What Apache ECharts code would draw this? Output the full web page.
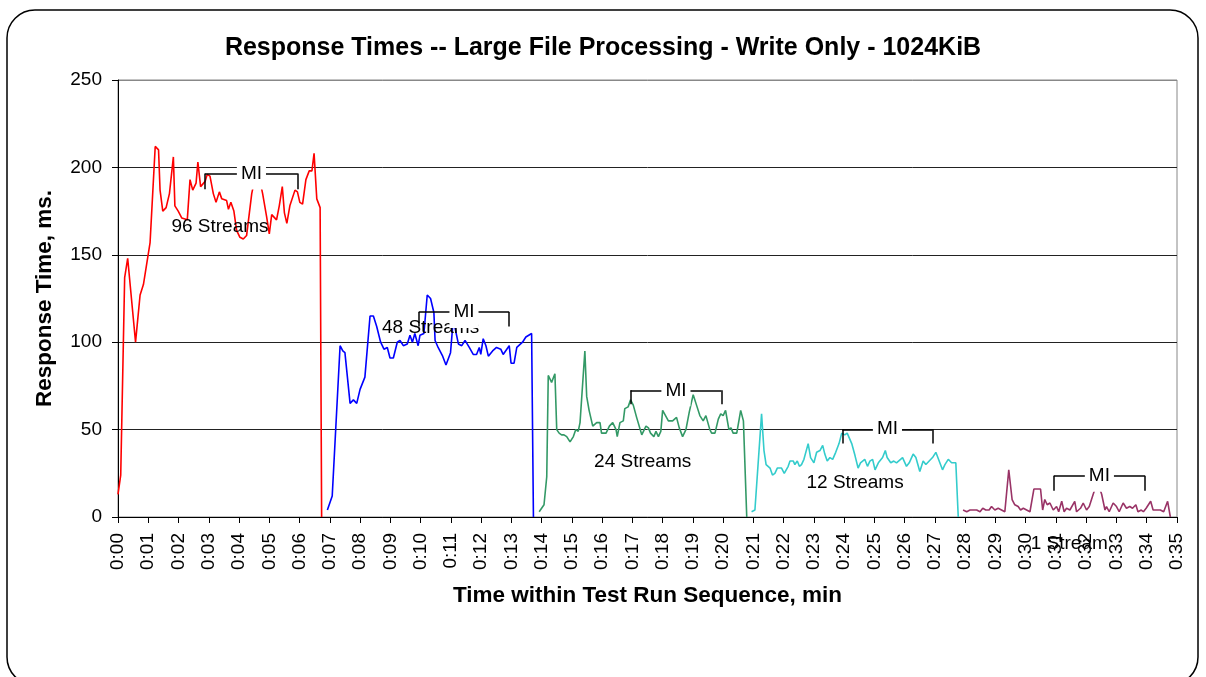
<!DOCTYPE html>
<html>
<head>
<meta charset="utf-8">
<script src="https://cdn.jsdelivr.net/npm/echarts@6/dist/echarts.min.js"></script>
<style>
  html, body { margin: 0; padding: 0; background: #fff; }
  #chart { width: 1206px; height: 677px; }
</style>
</head>
<body>
<div id="chart"></div>
<script>
// sample points: [time (min), response time (ms)]
const streams96 = [[0.00,13],[0.09,24],[0.22,137],[0.32,148],[0.58,100],[0.73,127],[0.84,133],[1.06,157],[1.23,212],[1.34,210],[1.39,187],[1.48,175],[1.59,177],[1.70,185],[1.83,206],[1.88,178],[1.99,175],[2.11,171],[2.29,170],[2.38,193],[2.47,187],[2.58,191],[2.64,203],[2.73,189],[2.88,192],[2.95,196],[3.04,195],[3.15,185],[3.24,180],[3.35,186],[3.43,182],[3.59,181],[3.65,176],[3.73,180],[3.83,175],[3.92,164],[4.03,160],[4.14,159],[4.25,161],[4.42,185],[4.60,200],[4.78,185],[4.91,172],[5.00,162],[5.08,173],[5.24,170],[5.33,178],[5.43,189],[5.50,174],[5.58,168],[5.68,178],[5.85,187],[5.93,186],[6.01,180],[6.10,179],[6.21,193],[6.32,198],[6.41,198],[6.48,208],[6.57,182],[6.68,177],[6.73,0]];
const streams48 = [[6.92,4],[7.08,12],[7.34,98],[7.43,95],[7.50,94],[7.67,65],[7.78,67],[7.89,65],[8.00,73],[8.16,80],[8.33,115],[8.44,115],[8.55,109],[8.68,100],[8.79,96],[8.90,97],[8.99,91],[9.10,91],[9.23,100],[9.32,101],[9.43,98],[9.56,99],[9.65,104],[9.73,100],[9.81,105],[9.92,98],[9.98,104],[10.11,105],[10.22,127],[10.33,125],[10.44,117],[10.48,101],[10.58,97],[10.73,92],[10.84,87],[10.99,94],[11.08,113],[11.25,99],[11.36,98],[11.47,101],[11.61,97],[11.74,93],[11.85,93],[11.94,97],[11.99,93],[12.07,102],[12.16,98],[12.24,92],[12.38,95],[12.51,97],[12.65,96],[12.73,93],[12.93,98],[12.99,88],[13.09,88],[13.18,97],[13.37,100],[13.48,103],[13.67,105],[13.73,0]];
const streams24 = [[13.92,3],[14.08,7],[14.17,23],[14.22,81],[14.33,77],[14.44,82],[14.50,50],[14.58,48],[14.66,47],[14.74,47],[14.83,46],[14.94,43],[15.05,46],[15.13,50],[15.21,49],[15.27,54],[15.43,95],[15.49,69],[15.57,61],[15.69,52],[15.82,54],[15.93,54],[15.98,48],[16.13,48],[16.24,52],[16.35,54],[16.46,50],[16.50,46],[16.59,54],[16.70,55],[16.75,62],[16.86,63],[16.94,67],[17.03,64],[17.14,57],[17.31,47],[17.45,52],[17.53,51],[17.60,48],[17.71,46],[17.78,49],[17.86,46],[17.94,49],[18.00,61],[18.19,55],[18.33,55],[18.46,57],[18.55,51],[18.66,46],[18.77,50],[18.88,60],[19.01,70],[19.12,64],[19.23,58],[19.34,55],[19.43,58],[19.56,50],[19.62,48],[19.73,48],[19.84,56],[19.92,59],[20.00,58],[20.08,61],[20.19,50],[20.26,51],[20.33,48],[20.45,48],[20.58,61],[20.67,55],[20.78,0]];
const streams12 = [[20.94,3],[21.05,4],[21.27,59],[21.35,38],[21.42,30],[21.55,28],[21.63,24],[21.71,25],[21.79,28],[21.93,28],[22.02,25],[22.15,29],[22.21,32],[22.32,32],[22.37,30],[22.45,32],[22.52,29],[22.59,30],[22.67,33],[22.81,42],[22.89,34],[23.00,31],[23.09,37],[23.20,38],[23.29,41],[23.36,36],[23.44,32],[23.53,34],[23.62,33],[23.72,37],[23.83,42],[23.92,48],[24.02,47],[24.10,48],[24.25,42],[24.36,35],[24.46,28],[24.54,31],[24.68,33],[24.77,29],[24.85,32],[24.94,33],[25.02,27],[25.13,31],[25.27,34],[25.36,38],[25.42,34],[25.54,31],[25.64,32],[25.73,31],[25.93,34],[26.06,29],[26.15,31],[26.28,36],[26.37,34],[26.50,26],[26.61,32],[26.70,30],[26.81,32],[26.92,34],[27.03,37],[27.14,32],[27.25,27],[27.33,30],[27.44,33],[27.55,31],[27.69,31],[27.77,0]];
const streams1 = [[27.93,4],[28.05,3],[28.16,4],[28.27,4],[28.38,4],[28.49,3],[28.58,5],[28.68,4],[28.79,4],[28.87,6],[28.98,4],[29.09,5],[29.20,4],[29.31,3],[29.44,27],[29.55,10],[29.64,7],[29.75,6],[29.83,4],[29.92,5],[30.03,4],[30.14,3],[30.27,16],[30.49,16],[30.56,4],[30.63,10],[30.71,7],[30.80,8],[30.91,4],[31.02,6],[31.09,3],[31.19,9],[31.27,3],[31.35,5],[31.46,4],[31.62,9],[31.68,3],[31.81,5],[31.90,8],[32.01,4],[32.10,6],[32.23,13],[32.37,20],[32.51,13],[32.62,4],[32.67,6],[32.76,3],[32.89,8],[33.00,6],[33.09,3],[33.22,8],[33.33,5],[33.44,6],[33.53,5],[33.64,7],[33.71,3],[33.82,4],[33.89,3],[33.98,5],[34.13,9],[34.21,4],[34.32,4],[34.45,4],[34.56,3],[34.69,9],[34.78,0]];

const seriesData = [streams96, streams48, streams24, streams12, streams1];
const seriesColors = ['#ff0000', '#0000ff', '#339966', '#33cccc', '#993366'];

// text labels for each run and where they sit (time, ms)
const streamLabels = ['96 Streams', '48 Streams', '24 Streams', '12 Streams', '1 Stream'];
const streamLabelAt = [[3.37, 166], [10.33, 108], [17.34, 31.6], [24.36, 19.3], [31.44, 0]];

// measurement interval brackets: [start, end, top, tick bottom]
const miBrackets = [
  [2.88, 5.94, 196.5, 187.5],
  [9.94, 12.93, 117.3, 109],
  [16.94, 19.94, 72.5, 64.5],
  [23.94, 26.92, 50.2, 42],
  [30.93, 33.94, 23.6, 15]
];

const FONT = '"Liberation Sans", Arial, sans-serif';

const chart = echarts.init(document.getElementById('chart'));

const lineSeries = seriesData.map(function(d, i) {
  return {
    type: 'line',
    data: d,
    showSymbol: false,
    symbol: 'none',
    lineStyle: { color: seriesColors[i], width: 1.6 },
    itemStyle: { color: seriesColors[i] },
    z: 2
  };
});

const bracketLines = [];
miBrackets.forEach(function(b) {
  bracketLines.push([{ coord: [b[0], b[3]] }, { coord: [b[0], b[2]] }]);
  bracketLines.push([{ coord: [b[0], b[2]] }, { coord: [b[1], b[2]] }]);
  bracketLines.push([{ coord: [b[1], b[2]] }, { coord: [b[1], b[3]] }]);
});

chart.setOption({
  animation: false,
  backgroundColor: '#fff',
  title: {
    text: 'Response Times -- Large File Processing - Write Only - 1024KiB',
    left: 'center',
    top: 36,
    padding: 0,
    textStyle: { fontFamily: FONT, fontSize: 25, fontWeight: 'bold', color: '#000' }
  },
  graphic: [{
    type: 'rect',
    shape: { x: 7, y: 10, width: 1191, height: 675, r: 28 },
    style: { fill: 'none', stroke: '#000', lineWidth: 1.5 },
    silent: true
  }],
  grid: {
    left: 118, top: 80, width: 1059, height: 437,
    show: true, borderColor: '#888', borderWidth: 1, backgroundColor: 'transparent'
  },
  xAxis: {
    type: 'value', min: 0, max: 35, interval: 1,
    name: 'Time within Test Run Sequence, min',
    nameLocation: 'middle', nameGap: 67,
    nameTextStyle: { fontFamily: FONT, fontSize: 22.5, fontWeight: 'bold', color: '#000' },
    axisLine: { show: true, onZero: false, lineStyle: { color: '#000', width: 1 } },
    axisTick: { show: true, length: 6, lineStyle: { color: '#000' } },
    splitLine: { show: false },
    axisLabel: {
      rotate: 90, margin: 16, fontFamily: FONT, fontSize: 19, color: '#000',
      formatter: function(v) { return '0:' + (v < 10 ? '0' : '') + v; }
    }
  },
  yAxis: {
    type: 'value', min: 0, max: 250, interval: 50,
    name: 'Response Time, ms.',
    nameLocation: 'middle', nameGap: 62,
    nameTextStyle: { fontFamily: FONT, fontSize: 22.5, fontWeight: 'bold', color: '#000' },
    axisLine: { show: true, lineStyle: { color: '#000', width: 1 } },
    axisTick: { show: true, length: 6, lineStyle: { color: '#000' } },
    splitLine: { show: true, lineStyle: { color: ['#222', '#222', '#222', '#222', '#222', '#888'], width: 1 } },
    axisLabel: { margin: 16, fontFamily: FONT, fontSize: 19, color: '#000' }
  },
  series: lineSeries.concat([
    {
      // run labels
      type: 'line', data: [], z: 5, silent: true,
      markPoint: {
        symbol: 'circle', symbolSize: 0, silent: true,
        label: { show: true, position: 'inside', fontFamily: FONT, fontSize: 19, color: '#000' },
        data: streamLabels.map(function(s, i) {
          const item = { coord: streamLabelAt[i], value: s, label: { formatter: s } };
          if (streamLabelAt[i][1] === 0) item.label.offset = [0, 27];
          return item;
        })
      }
    },
    {
      // MI brackets
      type: 'line', data: [], z: 6, silent: true,
      markLine: {
        symbol: ['none', 'none'], silent: true,
        label: { show: false },
        lineStyle: { color: '#000', width: 1.5, type: 'solid' },
        data: bracketLines
      },
      markPoint: {
        symbol: 'circle', symbolSize: 0, silent: true,
        label: {
          show: true, position: 'inside', formatter: 'MI',
          fontFamily: FONT, fontSize: 19, color: '#000',
          backgroundColor: '#fff', padding: [1, 4, 12, 4]
        },
        data: miBrackets.map(function(b) {
          return { coord: [(b[0] + b[1]) / 2, b[2]], value: 'MI' };
        })
      }
    }
  ])
});
</script>
</body>
</html>
